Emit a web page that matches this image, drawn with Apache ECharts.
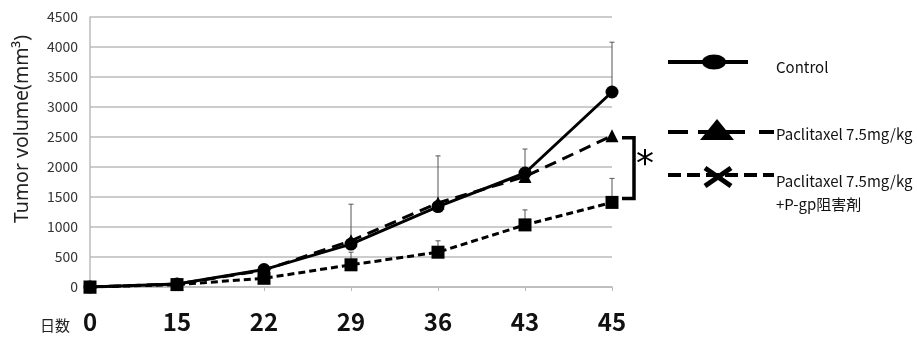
<!DOCTYPE html>
<html>
<head>
<meta charset="utf-8">
<script src="https://cdn.jsdelivr.net/npm/echarts@6/dist/echarts.min.js"></script>
<style>html,body{margin:0;padding:0;background:#fff;}#c{width:917px;height:342px;}</style>
</head>
<body>
<div id="c"></div>
<script>
// ---- data ----
var days = ['0', '15', '22', '29', '36', '43', '45'];
var control = [0, 50, 290, 715, 1340, 1900, 3250];
var controlErr = [0, 0, 0, 665, 845, 400, 830];
var paclitaxel = [0, 50, 280, 770, 1400, 1840, 2520];
var combo = [0, 40, 145, 370, 580, 1035, 1410];
var comboErr = [0, 0, 0, 210, 190, 250, 400];
var yTicks = [0, 500, 1000, 1500, 2000, 2500, 3000, 3500, 4000, 4500];
var seriesNames = ['Control', 'Paclitaxel 7.5mg/kg', 'Paclitaxel 7.5mg/kg\n+P-gp阻害剤'];

var chart = echarts.init(document.getElementById('c'), null, {renderer: 'canvas'});

function errData(vals, errs) {
  var out = [];
  for (var i = 0; i < vals.length; i++) {
    if (errs[i] > 0) out.push([i, vals[i], vals[i] + errs[i]]);
  }
  return out;
}
function errRender(params, api) {
  var p0 = api.coord([api.value(0), api.value(1)]);
  var p1 = api.coord([api.value(0), api.value(2)]);
  var st = {stroke: '#555', lineWidth: 1};
  return {
    type: 'group',
    children: [
      {type: 'line', shape: {x1: p0[0], y1: p0[1], x2: p1[0], y2: p1[1]}, style: st},
      {type: 'line', shape: {x1: p1[0] - 2.5, y1: p1[1], x2: p1[0] + 2.5, y2: p1[1]}, style: st}
    ]
  };
}

var CJK = '"Noto Sans CJK JP", "Noto Sans", sans-serif';

var option = {
  animation: false,
  backgroundColor: '#fff',
  grid: {left: 90, right: 305, top: 17, bottom: 55},
  xAxis: {
    type: 'category',
    data: days,
    boundaryGap: false,
    axisLine: {show: true, lineStyle: {color: '#bbb', width: 1.5}},
    axisTick: {show: true, alignWithLabel: true, length: 4, lineStyle: {color: '#bbb'}},
    axisLabel: {
      margin: 23,
      fontFamily: CJK,
      fontWeight: 'bold', fontSize: 24, color: '#111'
    },
    splitLine: {show: false}
  },
  yAxis: {
    type: 'value',
    min: yTicks[0], max: yTicks[yTicks.length - 1], interval: 500,
    axisLine: {show: true, lineStyle: {color: '#bbb', width: 1.5}},
    axisTick: {show: false},
    axisLabel: {
      margin: 12,
      formatter: function (v) { return String(v); },
      fontFamily: CJK,
      fontSize: 14, color: '#333'
    },
    splitLine: {show: true, lineStyle: {color: '#bbb', width: 1.5}}
  },
  series: [
    {type: 'custom', name: 'errC', renderItem: errRender, data: errData(control, controlErr), z: 1, silent: true},
    {type: 'custom', name: 'errK', renderItem: errRender, data: errData(combo, comboErr), z: 1, silent: true},
    {
      type: 'line', name: seriesNames[2], data: combo, z: 3,
      symbol: 'rect', symbolSize: 13,
      lineStyle: {color: '#000', width: 3, type: [7, 4]},
      itemStyle: {color: '#000'}
    },
    {
      type: 'line', name: seriesNames[1], data: paclitaxel, z: 4,
      symbol: 'triangle', symbolSize: 13,
      lineStyle: {color: '#000', width: 3, type: [12, 7]},
      itemStyle: {color: '#000'}
    },
    {
      type: 'line', name: seriesNames[0], data: control, z: 5,
      symbol: 'circle', symbolSize: 13,
      lineStyle: {color: '#000', width: 3, type: 'solid'},
      itemStyle: {color: '#000'}
    }
  ]
};
chart.setOption(option);

// ---- annotations / legend ----
var pT = chart.convertToPixel({gridIndex: 0}, [days.length - 1, paclitaxel[paclitaxel.length - 1]]);
var pS = chart.convertToPixel({gridIndex: 0}, [days.length - 1, combo[combo.length - 1]]);
var bx0 = pT[0] + 10, bx1 = pT[0] + 22;
var by0 = pT[1] + 2, by1 = pS[1] - 4;

var g = [];
g.push({
  type: 'polyline', z: 10,
  shape: {points: [[bx0, by0], [bx1, by0], [bx1, by1], [bx0, by1]]},
  style: {stroke: '#000', lineWidth: 3.5, fill: null}
});
g.push({
  type: 'text', z: 10, x: bx1 + 11, y: (by0 + by1) / 2 - 2,
  style: {text: '*', fontSize: 36, fontFamily: '"DejaVu Sans", sans-serif', fill: '#000', align: 'center', verticalAlign: 'middle'}
});
// axis titles
g.push({
  type: 'text', x: 22, y: 129, rotation: Math.PI / 2,
  style: {text: 'Tumor volume(mm³)', fontSize: 19.5, fontFamily: '"Noto Sans", sans-serif', fill: '#222', align: 'center', verticalAlign: 'middle'}
});
g.push({
  type: 'text', x: 55, y: 325,
  style: {text: '日数', fontSize: 15, fontFamily: CJK, fill: '#222', align: 'center', verticalAlign: 'middle'}
});
// legend 1
g.push({type: 'line', shape: {x1: 668, y1: 62, x2: 748, y2: 62}, style: {stroke: '#000', lineWidth: 4}});
g.push({type: 'ellipse', shape: {cx: 714, cy: 62, rx: 12, ry: 7.5}, style: {fill: '#000'}});
g.push({type: 'text', x: 776, y: 67, style: {text: seriesNames[0], fontSize: 15, fontFamily: CJK, fill: '#111', verticalAlign: 'middle'}});
// legend 2
g.push({type: 'line', shape: {x1: 668, y1: 132, x2: 774, y2: 132}, style: {stroke: '#000', lineWidth: 4, lineDash: [20, 10, 47, 14]}});
g.push({type: 'polygon', shape: {points: [[700, 140], [734, 140], [717, 119]]}, style: {fill: '#000'}});
g.push({type: 'text', x: 776, y: 134, style: {text: seriesNames[1], fontSize: 15, fontFamily: CJK, fill: '#111', verticalAlign: 'middle'}});
// legend 3
g.push({type: 'line', shape: {x1: 668, y1: 175, x2: 774, y2: 175}, style: {stroke: '#000', lineWidth: 4, lineDash: [13, 6]}});
g.push({type: 'line', shape: {x1: 705, y1: 168, x2: 731, y2: 186}, style: {stroke: '#000', lineWidth: 5}});
g.push({type: 'line', shape: {x1: 705, y1: 186, x2: 731, y2: 168}, style: {stroke: '#000', lineWidth: 5}});
g.push({type: 'text', x: 776, y: 170, style: {text: seriesNames[2], fontSize: 15, lineHeight: 23, fontFamily: CJK, fill: '#111', verticalAlign: 'top'}});

chart.setOption({graphic: g});
</script>
</body>
</html>
